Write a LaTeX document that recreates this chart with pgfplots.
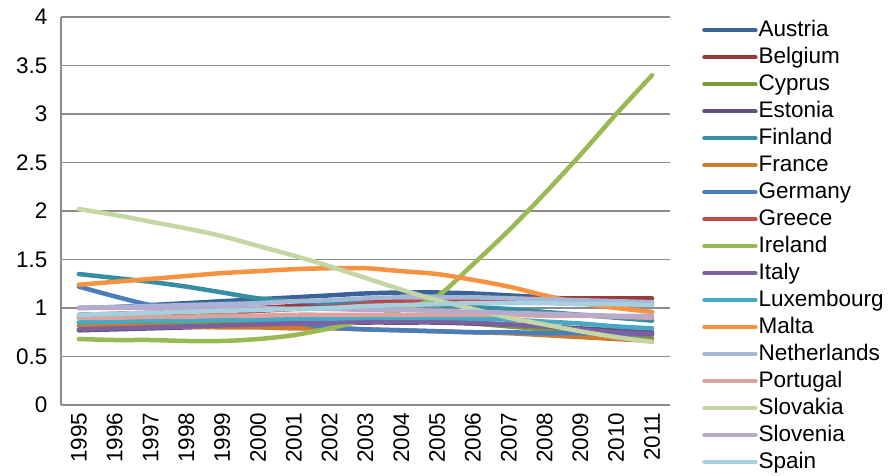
\documentclass[border=0pt]{standalone}
\usepackage{pgfplots}
\pgfplotsset{compat=1.18}
\usepackage{fontspec}
\setmainfont{Liberation Sans}
\definecolor{cAustria}{HTML}{3B6496}
\definecolor{cBelgium}{HTML}{9B3A38}
\definecolor{cCyprus}{HTML}{7A9A3E}
\definecolor{cEstonia}{HTML}{644E80}
\definecolor{cFinland}{HTML}{378DA1}
\definecolor{cFrance}{HTML}{D07A30}
\definecolor{cGermany}{HTML}{4A7EBB}
\definecolor{cGreece}{HTML}{BE4B48}
\definecolor{cIreland}{HTML}{98B954}
\definecolor{cItaly}{HTML}{7D60A0}
\definecolor{cLux}{HTML}{46AAC5}
\definecolor{cMalta}{HTML}{F69240}
\definecolor{cNether}{HTML}{A5B7D9}
\definecolor{cPortugal}{HTML}{D9A3A2}
\definecolor{cSlovakia}{HTML}{C3D6A4}
\definecolor{cSlovenia}{HTML}{B7AACC}
\definecolor{cSpain}{HTML}{A5D0DE}
\definecolor{gridgray}{HTML}{8C8C8C}
\begin{document}
\begin{tikzpicture}
\useasboundingbox (0,0) rectangle (888pt,476pt);
\begin{axis}[
  at={(61pt,71pt)}, anchor=south west,
  scale only axis, width=609pt, height=388pt,
  xmin=1994.5, xmax=2011.5, ymin=0, ymax=4,
  xtick={1995,...,2011},
  ytick={0,0.5,...,4},
  axis lines*=left,
  axis line style={draw=gridgray, line width=1.6pt, -},
  major tick length=0pt,
  ymajorgrids,
  grid style={draw=gridgray, line width=1.4pt},
  tick label style={font=\fontsize{22.5}{26}\selectfont},
  /pgf/number format/assume math mode=true,
  x tick label style={/pgf/number format/1000 sep={}, yshift=-4pt, rotate=90, anchor=east},
  yticklabel style={xshift=-10pt},
  every axis plot/.append style={line width=4.5pt, smooth, no marks, line cap=round, line join=round},
  legend cell align=left,
  legend style={at={(axis description cs:1.0525,1.0)}, anchor=north west, draw=none, fill=none,
    inner sep=0pt, row sep=1pt, column sep=0pt,
    font=\fontsize{22.5}{26}\selectfont,
    nodes={text height=17pt, text depth=5pt, inner ysep=2pt, inner xsep=1pt}},
  legend image code/.code={\draw[#1, line cap=round] (3pt,0pt) -- (54pt,0pt);},
]
\addplot[cAustria] coordinates {(1995,1.00)(1996,1.01)(1997,1.03)(1998,1.05)(1999,1.07)(2000,1.09)(2001,1.11)(2002,1.13)(2003,1.15)(2004,1.16)(2005,1.16)(2006,1.15)(2007,1.13)(2008,1.11)(2009,1.09)(2010,1.07)(2011,1.05)};
\addlegendentry{Austria}
\addplot[cBelgium] coordinates {(1995,0.93)(1996,0.94)(1997,0.95)(1998,0.96)(1999,0.98)(2000,1.00)(2001,1.02)(2002,1.04)(2003,1.06)(2004,1.07)(2005,1.08)(2006,1.09)(2007,1.10)(2008,1.10)(2009,1.10)(2010,1.10)(2011,1.10)};
\addlegendentry{Belgium}
\addplot[cCyprus] coordinates {(1995,0.85)(1996,0.85)(1997,0.85)(1998,0.85)(1999,0.85)(2000,0.86)(2001,0.86)(2002,0.87)(2003,0.87)(2004,0.87)(2005,0.86)(2006,0.84)(2007,0.81)(2008,0.78)(2009,0.75)(2010,0.72)(2011,0.69)};
\addlegendentry{Cyprus}
\addplot[cEstonia] coordinates {(1995,0.77)(1996,0.78)(1997,0.79)(1998,0.80)(1999,0.81)(2000,0.82)(2001,0.83)(2002,0.84)(2003,0.85)(2004,0.85)(2005,0.85)(2006,0.84)(2007,0.83)(2008,0.81)(2009,0.79)(2010,0.77)(2011,0.75)};
\addlegendentry{Estonia}
\addplot[cFinland] coordinates {(1995,1.35)(1996,1.31)(1997,1.27)(1998,1.22)(1999,1.16)(2000,1.10)(2001,1.07)(2002,1.05)(2003,1.05)(2004,1.04)(2005,1.03)(2006,1.01)(2007,0.99)(2008,0.96)(2009,0.93)(2010,0.90)(2011,0.87)};
\addlegendentry{Finland}
\addplot[cFrance] coordinates {(1995,0.82)(1996,0.82)(1997,0.81)(1998,0.81)(1999,0.80)(2000,0.80)(2001,0.79)(2002,0.79)(2003,0.78)(2004,0.77)(2005,0.76)(2006,0.75)(2007,0.74)(2008,0.72)(2009,0.70)(2010,0.68)(2011,0.66)};
\addlegendentry{France}
\addplot[cGermany] coordinates {(1995,1.22)(1996,1.12)(1997,1.03)(1998,0.99)(1999,0.95)(2000,0.90)(2001,0.85)(2002,0.80)(2003,0.78)(2004,0.77)(2005,0.76)(2006,0.75)(2007,0.75)(2008,0.74)(2009,0.74)(2010,0.73)(2011,0.73)};
\addlegendentry{Germany}
\addplot[cGreece] coordinates {(1995,0.90)(1996,0.91)(1997,0.92)(1998,0.93)(1999,0.95)(2000,0.97)(2001,0.99)(2002,1.01)(2003,1.04)(2004,1.06)(2005,1.07)(2006,1.07)(2007,1.07)(2008,1.06)(2009,1.05)(2010,1.04)(2011,1.03)};
\addlegendentry{Greece}
\addplot[cIreland] coordinates {(1995,0.68)(1996,0.67)(1997,0.67)(1998,0.66)(1999,0.66)(2000,0.68)(2001,0.72)(2002,0.79)(2003,0.88)(2004,0.98)(2005,1.12)(2006,1.45)(2007,1.80)(2008,2.18)(2009,2.58)(2010,3.00)(2011,3.40)};
\addlegendentry{Ireland}
\addplot[cItaly] coordinates {(1995,0.78)(1996,0.79)(1997,0.80)(1998,0.81)(1999,0.82)(2000,0.83)(2001,0.84)(2002,0.85)(2003,0.86)(2004,0.86)(2005,0.86)(2006,0.85)(2007,0.83)(2008,0.81)(2009,0.78)(2010,0.75)(2011,0.73)};
\addlegendentry{Italy}
\addplot[cLux] coordinates {(1995,0.85)(1996,0.86)(1997,0.87)(1998,0.87)(1999,0.88)(2000,0.88)(2001,0.89)(2002,0.89)(2003,0.90)(2004,0.90)(2005,0.90)(2006,0.89)(2007,0.88)(2008,0.86)(2009,0.84)(2010,0.81)(2011,0.79)};
\addlegendentry{Luxembourg}
\addplot[cMalta] coordinates {(1995,1.24)(1996,1.27)(1997,1.30)(1998,1.33)(1999,1.36)(2000,1.38)(2001,1.40)(2002,1.41)(2003,1.41)(2004,1.38)(2005,1.35)(2006,1.29)(2007,1.22)(2008,1.13)(2009,1.05)(2010,1.00)(2011,0.96)};
\addlegendentry{Malta}
\addplot[cNether] coordinates {(1995,1.00)(1996,1.01)(1997,1.02)(1998,1.03)(1999,1.04)(2000,1.05)(2001,1.07)(2002,1.08)(2003,1.10)(2004,1.11)(2005,1.11)(2006,1.11)(2007,1.10)(2008,1.09)(2009,1.08)(2010,1.07)(2011,1.06)};
\addlegendentry{Netherlands}
\addplot[cPortugal] coordinates {(1995,0.90)(1996,0.90)(1997,0.91)(1998,0.91)(1999,0.92)(2000,0.92)(2001,0.93)(2002,0.93)(2003,0.93)(2004,0.93)(2005,0.93)(2006,0.93)(2007,0.93)(2008,0.92)(2009,0.92)(2010,0.91)(2011,0.90)};
\addlegendentry{Portugal}
\addplot[cSlovakia] coordinates {(1995,2.02)(1996,1.96)(1997,1.89)(1998,1.82)(1999,1.74)(2000,1.64)(2001,1.54)(2002,1.43)(2003,1.31)(2004,1.19)(2005,1.08)(2006,0.99)(2007,0.90)(2008,0.83)(2009,0.76)(2010,0.70)(2011,0.65)};
\addlegendentry{Slovakia}
\addplot[cSlovenia] coordinates {(1995,1.00)(1996,1.00)(1997,1.00)(1998,1.00)(1999,1.00)(2000,1.00)(2001,0.99)(2002,0.99)(2003,0.98)(2004,0.98)(2005,0.97)(2006,0.96)(2007,0.95)(2008,0.94)(2009,0.93)(2010,0.92)(2011,0.92)};
\addlegendentry{Slovenia}
\addplot[cSpain] coordinates {(1995,0.93)(1996,0.94)(1997,0.95)(1998,0.96)(1999,0.97)(2000,0.98)(2001,0.99)(2002,1.00)(2003,1.02)(2004,1.03)(2005,1.04)(2006,1.05)(2007,1.05)(2008,1.05)(2009,1.04)(2010,1.04)(2011,1.03)};
\addlegendentry{Spain}
\end{axis}
\end{tikzpicture}
\end{document}
